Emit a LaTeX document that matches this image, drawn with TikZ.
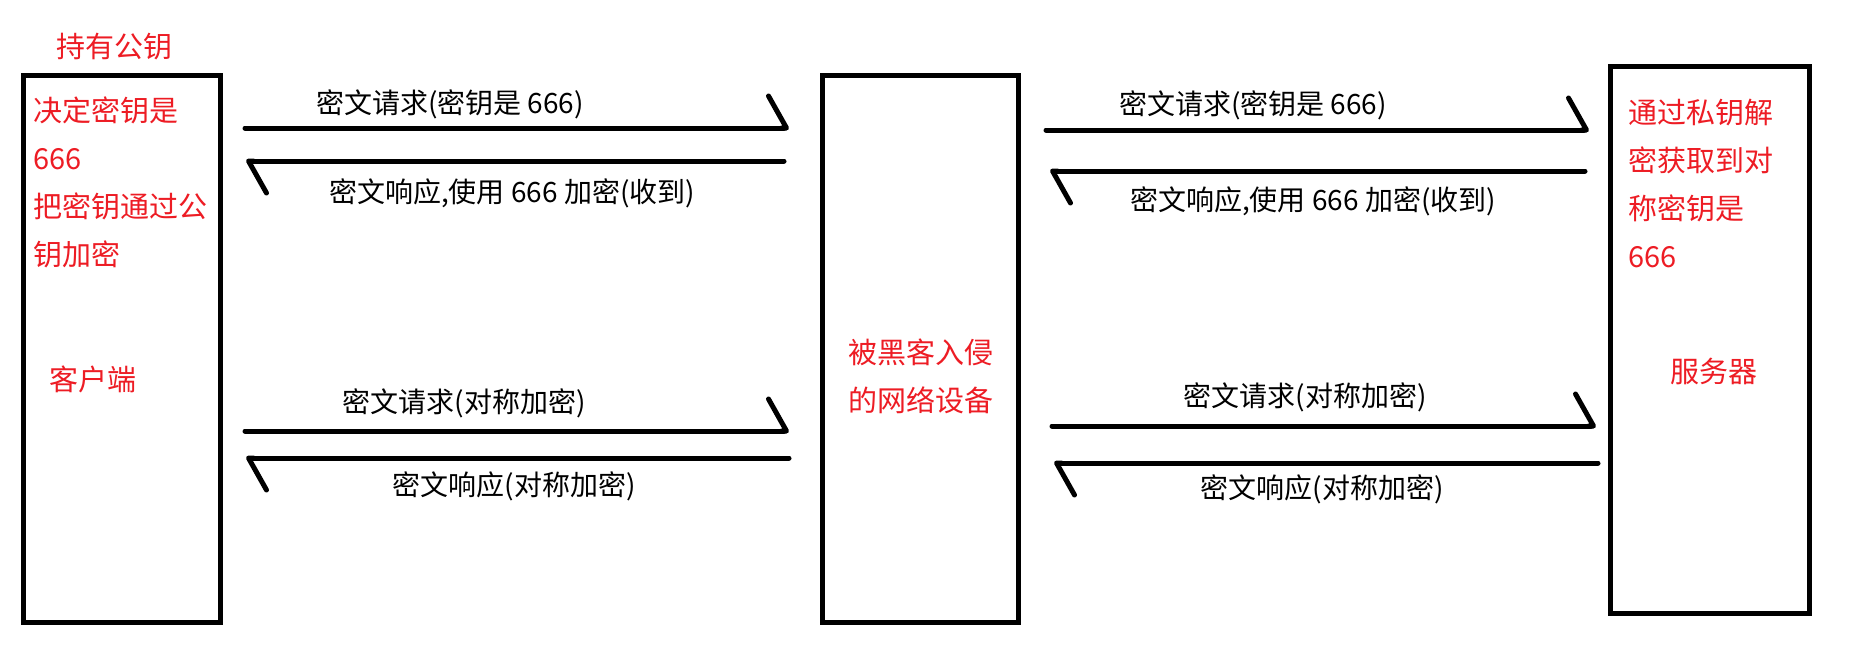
\documentclass[tikz,border=0pt]{standalone}
\usepackage{fontspec}
\setmainfont{Noto Sans CJK SC}
\usetikzlibrary{arrows.meta}
\definecolor{paintred}{RGB}{237,28,36}
\tikzset{
	box/.style={draw, line width=5pt, inner sep=0pt},
	msg/.style={line width=5pt, line cap=round, -{Straight Barb[harpoon, length=18pt, width=64pt, line cap=round, line join=round]}},
	note/.style={text=paintred, font=\fontsize{29}{48}\selectfont, inner sep=0pt},
	lbl/.style={font=\fontsize{28}{34}\selectfont, inner sep=0pt}
}
\begin{document}
\begin{tikzpicture}[x=1pt,y=-1pt]
				\useasboundingbox (0,0) rectangle (1857,670);
				% the three boxes
				\node[box, minimum width=197pt, minimum height=547pt] (client) at (122,349) {};
				\node[box, minimum width=196pt, minimum height=547pt] (hacker) at (920,349) {};
				\node[box, minimum width=199pt, minimum height=547pt] (server) at (1710,340) {};
				\node[note] (hold) at (114,47) {持有公钥};
				\node[note, anchor=north west, align=left] (clientnote) at (33,97) {决定密钥是\\666\\把密钥通过公\\钥加密};
				\node[note] (clientname) at (93,379) {客户端};
				\node[note, align=center] (hackername) at (921,376) {被黑客入侵\\的网络设备};
				\node[note, anchor=north west, align=left] (servernote) at (1628,99) {通过私钥解\\密获取到对\\称密钥是\\666};
				\node[note] (servername) at (1714,371) {服务器};
				% ends of the messages
				\coordinate (CH1) at (245,128);
				\coordinate (HC1) at (789,128);
				\coordinate (CH2) at (784,161);
				\coordinate (HC2) at (246,161);
				\coordinate (CH3) at (245,431);
				\coordinate (HC3) at (789,431);
				\coordinate (CH4) at (789,458);
				\coordinate (HC4) at (246,458);
				\coordinate (HS1) at (1046,130);
				\coordinate (SH1) at (1589,130);
				\coordinate (HS2) at (1585,171);
				\coordinate (SH2) at (1050,171);
				\coordinate (HS3) at (1052,426);
				\coordinate (SH3) at (1596,426);
				\coordinate (HS4) at (1598,463);
				\coordinate (SH4) at (1054,463);
				\foreach \A/\B in {CH1/HC1,CH2/HC2,CH3/HC3,CH4/HC4,HS1/SH1,HS2/SH2,HS3/SH3,HS4/SH4} \draw[msg] (\A)--(\B);
				\node[lbl] (CHreq1) at (450,104) {密文请求(密钥是 666)};
				\node[lbl] (CHres1) at (512,193) {密文响应,使用 666 加密(收到)};
				\node[lbl] (CHreq2) at (464,403) {密文请求(对称加密)};
				\node[lbl] (CHres2) at (514,486) {密文响应(对称加密)};
				\node[lbl] (HSreq1) at (1253,105) {密文请求(密钥是 666)};
				\node[lbl] (HSres1) at (1313,201) {密文响应,使用 666 加密(收到)};
				\node[lbl] (HSreq2) at (1305,397) {密文请求(对称加密)};
				\node[lbl] (HSres2) at (1322,489) {密文响应(对称加密)};
\end{tikzpicture}
\end{document}
